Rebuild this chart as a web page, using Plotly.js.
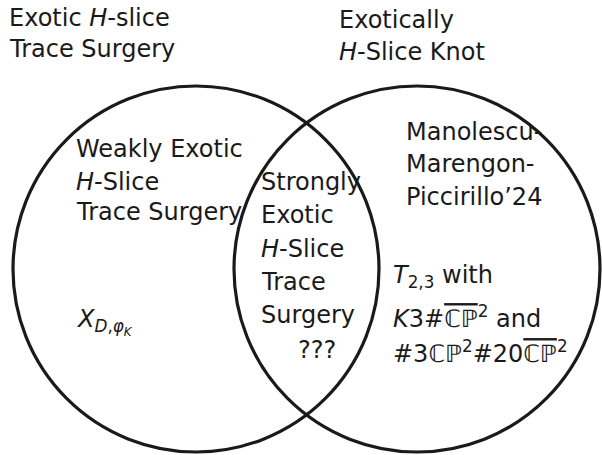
<!DOCTYPE html>
<html>
<head>
<meta charset="utf-8">
<script src="https://cdn.plot.ly/plotly-3.0.1.min.js"></script>
<style>html,body{margin:0;padding:0;background:#fff;}#chart{width:602px;height:455px;}</style>
</head>
<body>
<div id="chart"></div>
<script>
// Venn sets
var setNames = ["Exotic H-slice Trace Surgery", "Exotically H-Slice Knot"];
var setCenterX = [196, 417];
var setCenterY = [269, 269];
var setRadius = [183, 183];

// Labels (text only)
var titleLeft = ["Exotic <i>H</i>-slice", "Trace Surgery"];
var titleRight = ["Exotically", "<i>H</i>-Slice Knot"];
var leftOnly = ["Weakly Exotic", "<i>H</i>-Slice", "Trace Surgery"];
var leftExample = ["<i>X</i><sub><i>D</i>,<i>φ</i><sub><i>K</i></sub></sub>"];
var bothSets = ["Strongly", "Exotic", "<i>H</i>-Slice", "Trace", "Surgery"];
var bothExample = ["???"];
var rightOnly = ["Manolescu-", "Marengon-", "Piccirillo’24"];
var OL = function(s){ return '<span style="text-decoration:overline">' + s + '</span>'; };
var rightExample = [
  "<i>T</i><sub>2,3</sub> with",
  "<i>K</i>3#" + OL("ℂℙ") + "<sup>2</sup> and",
  "#3ℂℙ<sup>2</sup>#20" + OL("ℂℙ") + "<sup>2</sup>"
];

var FS = 24;
var FAMILY = 'DejaVu Sans';
var annotations = [];
function addLines(lines, x, baselines) {
  lines.forEach(function(t, i) {
    annotations.push({
      text: t, x: x, y: baselines[i] - 0.35 * FS, xref: 'x', yref: 'y',
      xanchor: 'left', yanchor: 'middle', showarrow: false,
      font: {family: FAMILY, size: FS, color: '#1a1a1a'}
    });
  });
}
addLines(titleLeft, 7, [26, 57]);
addLines(titleRight, 337, [28, 60]);
addLines(leftOnly, 74, [157, 190, 220]);
addLines(leftExample, 74, [330]);
addLines(bothSets, 259, [190, 223, 257, 290, 323]);
addLines(bothExample, 296, [358]);
addLines(rightOnly, 404, [140, 172, 205]);
addLines(rightExample, 391, [285, 325, 360]);

var shapes = setNames.map(function(n, i) {
  return {
    type: 'circle', xref: 'x', yref: 'y',
    x0: setCenterX[i] - setRadius[i], x1: setCenterX[i] + setRadius[i],
    y0: setCenterY[i] - setRadius[i], y1: setCenterY[i] + setRadius[i],
    line: {color: '#1a1a1a', width: 3.2}, fillcolor: 'rgba(0,0,0,0)'
  };
});

var layout = {
  width: 602, height: 455,
  margin: {l: 0, r: 0, t: 0, b: 0},
  font: {family: FAMILY, size: FS, color: '#1a1a1a'},
  paper_bgcolor: '#fff', plot_bgcolor: '#fff',
  xaxis: {range: [0, 602], visible: false, fixedrange: true},
  yaxis: {range: [455, 0], visible: false, fixedrange: true},
  shapes: shapes, annotations: annotations, showlegend: false
};
Plotly.newPlot('chart', [{x: [], y: [], type: 'scatter', hoverinfo: 'skip'}], layout, {displayModeBar: false, staticPlot: true});
</script>
</body>
</html>
